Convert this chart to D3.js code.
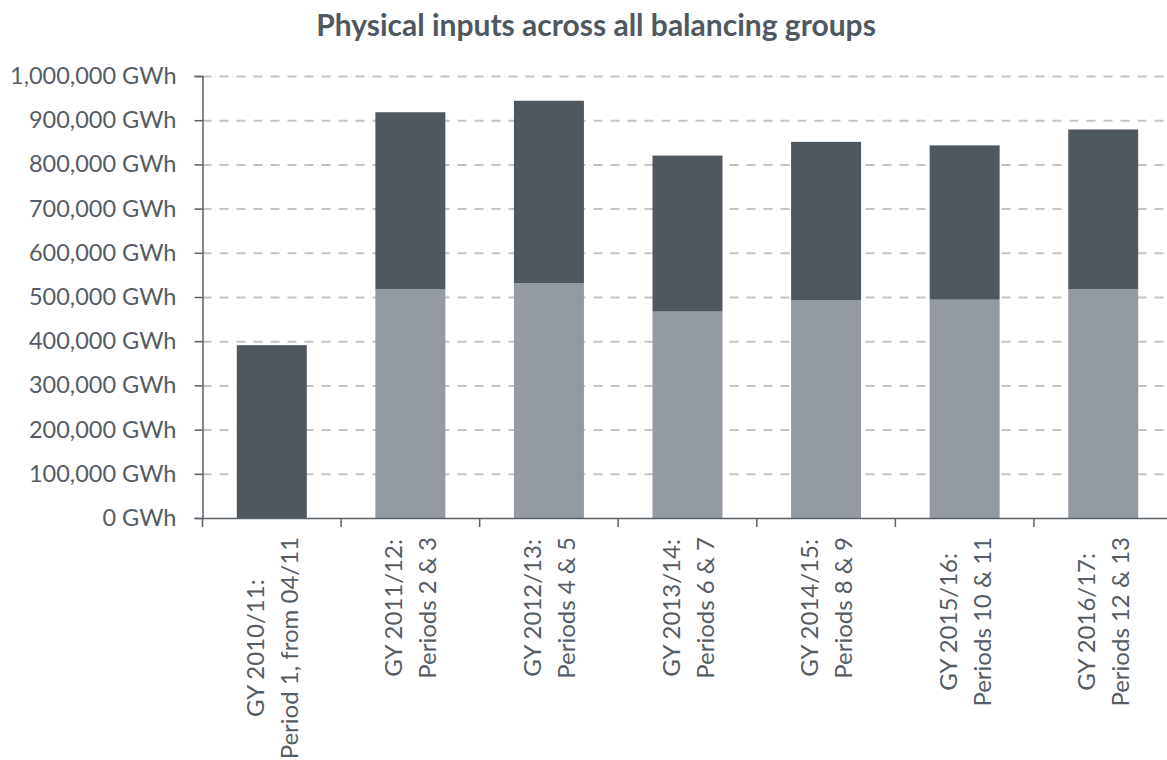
<!DOCTYPE html>
<html>
<head>
<meta charset="utf-8">
<script src="https://cdn.jsdelivr.net/npm/d3@7"></script>
<style>
  body { margin: 0; background: #fff; }
  text { font-family: Lato, "Open Sans", sans-serif; fill: #555c64; }
</style>
</head>
<body>
<div id="chart"></div>
<script>
// page constants
const FRAME_WIDTH = 1167;
const FRAME_HEIGHT = 760;
const PLOT = {left: 202.5, right: 1172.5, top: 76, bottom: 518};

// data
const YEAR_LABELS = ["GY 2010/11:", "GY 2011/12:", "GY 2012/13:", "GY 2013/14:", "GY 2014/15:", "GY 2015/16:", "GY 2016/17:"];
const PERIOD_LABELS = ["Period 1, from 04/11", "Periods 2 & 3", "Periods 4 & 5", "Periods 6 & 7", "Periods 8 & 9", "Periods 10 & 11", "Periods 12 & 13"];
const LIGHT_VALUES = [0, 518000, 531000, 467000, 493000, 494000, 518000];
const DARK_VALUES = [391000, 400000, 413000, 353000, 358000, 349000, 361000];
const Y_TICKS = [0, 100000, 200000, 300000, 400000, 500000, 600000, 700000, 800000, 900000, 1000000];

const COLORS = {light: "#939aa2", dark: "#4f575f"};

const rows = YEAR_LABELS.map((d, i) => ({cat: d, light: LIGHT_VALUES[i], dark: DARK_VALUES[i]}));

const svg = d3.select("#chart")
  .append("svg")
  .attr("width", FRAME_WIDTH)
  .attr("height", FRAME_HEIGHT);

const X_SCALE = d3.scaleBand()
  .domain(YEAR_LABELS)
  .range([PLOT.left, PLOT.right])
  .padding(0);

const Y_SCALE = d3.scaleLinear()
  .domain([0, 1000000])
  .range([PLOT.bottom, PLOT.top]);

// title
svg.append("text")
  .attr("x", 596)
  .attr("y", 36)
  .attr("text-anchor", "middle")
  .attr("font-size", "30px")
  .attr("font-weight", "bold")
  .style("fill", "#4f575f")
  .text("Physical inputs across all balancing groups");

// dashed gridlines
const grid = svg.append("g")
  .attr("transform", "translate(" + PLOT.left + ",0)")
  .call(d3.axisLeft(Y_SCALE).tickValues(Y_TICKS.slice(1)).tickSize(-(PLOT.right - PLOT.left)).tickFormat(""));
grid.select(".domain").remove();
grid.selectAll(".tick line")
  .attr("stroke", "#c4c4c4")
  .attr("stroke-width", 2)
  .attr("stroke-dasharray", "9,8");

// stacked bars
const stacked = d3.stack().keys(["light", "dark"])(rows);
const BAR_W = X_SCALE.bandwidth() * 0.505;

svg.append("g").selectAll("g")
  .data(stacked)
  .enter()
  .append("g")
  .attr("fill", (d) => COLORS[d.key])
  .selectAll("rect")
  .data((d) => d)
  .enter()
  .append("rect")
  .attr("x", (d) => X_SCALE(d.data.cat) + (X_SCALE.bandwidth() - BAR_W) / 2)
  .attr("y", (d) => Y_SCALE(d[1]))
  .attr("width", BAR_W)
  .attr("height", (d) => Y_SCALE(d[0]) - Y_SCALE(d[1]));

// y axis
const yAxis = svg.append("g")
  .attr("transform", "translate(" + PLOT.left + ",0)")
  .call(d3.axisLeft(Y_SCALE).tickValues(Y_TICKS).tickSize(8).tickPadding(18)
    .tickFormat((d) => d3.format(",")(d) + " GWh"));
yAxis.select(".domain").attr("stroke", "#5a6169").attr("stroke-width", 1.5);
yAxis.selectAll(".tick line").attr("stroke", "#5a6169").attr("stroke-width", 1.5);
yAxis.selectAll(".tick text")
  .attr("font-size", "23.5px")
  .attr("font-family", "Lato, sans-serif")
  .style("fill", "#555c64");

// x axis line plus boundary ticks
const xAxis = svg.append("g")
  .attr("transform", "translate(0," + PLOT.bottom + ")")
  .call(d3.axisBottom(X_SCALE).tickSize(0).tickFormat(""));
xAxis.select(".domain").attr("stroke", "#5a6169").attr("stroke-width", 1.5);

xAxis.selectAll(".bound")
  .data(YEAR_LABELS.concat(["end"]))
  .enter()
  .append("line")
  .attr("x1", (d, i) => i < YEAR_LABELS.length ? X_SCALE(d) : X_SCALE.range()[1])
  .attr("x2", (d, i) => i < YEAR_LABELS.length ? X_SCALE(d) : X_SCALE.range()[1])
  .attr("y1", 0)
  .attr("y2", 9)
  .attr("stroke", "#5a6169")
  .attr("stroke-width", 1.5);

// rotated two-line category labels
const labels = svg.append("g").selectAll("g")
  .data(YEAR_LABELS)
  .enter()
  .append("g")
  .attr("transform", (d) => "translate(" + (X_SCALE(d) + X_SCALE.bandwidth() / 2) + ",537) rotate(-90)");

labels.each(function(d, i) {
  const g = d3.select(this);
  const t1 = g.append("text").attr("y", -8).attr("text-anchor", "middle")
    .attr("font-size", "24px").text(YEAR_LABELS[i]);
  const t2 = g.append("text").attr("y", 26).attr("text-anchor", "middle")
    .attr("font-size", "24px").text(PERIOD_LABELS[i]);
  const longest = Math.max(t1.node().getComputedTextLength(), t2.node().getComputedTextLength());
  t1.attr("x", -longest / 2);
  t2.attr("x", -longest / 2);
});
</script>
</body>
</html>
